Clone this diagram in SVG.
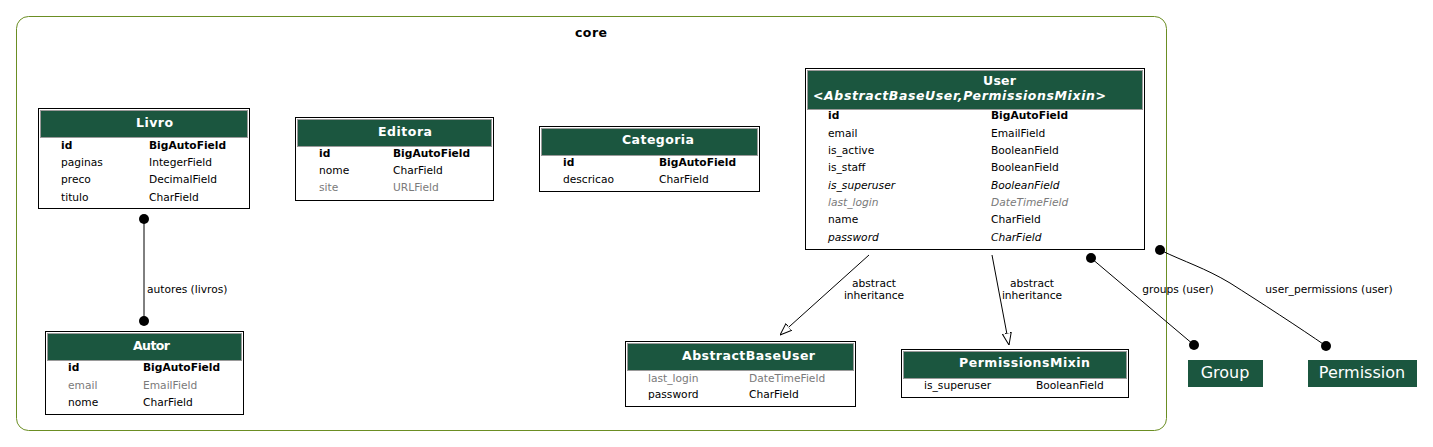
<svg xmlns="http://www.w3.org/2000/svg" width="1433" height="447" viewBox="0 0 1433 447">
<style>
text{font-family:"DejaVu Sans","Liberation Sans",sans-serif;}
.frame{fill:#fff;stroke:#000;stroke-width:1}
.hdr{fill:#1b563f;stroke:#9a9a9a;stroke-width:1}
.title{fill:#fff;font-size:12.5px;font-weight:bold}
.r{font-size:10.67px;fill:#000}
.b{font-weight:bold}
.g{fill:#7a7a7a}
.i{font-style:italic}
.lbl{font-size:10.67px;fill:#000}
.c{text-anchor:middle}
.edge{fill:none;stroke:#000;stroke-width:1}
.dot{fill:#000}
.ext{fill:#1b563f}
.extt{fill:#fff;font-size:16px;text-anchor:middle}
</style>
<defs>
<marker id="tri" viewBox="0 0 12 10" refX="12" refY="5" markerWidth="12" markerHeight="10" markerUnits="userSpaceOnUse" orient="auto">
<path d="M0,0.5 L12,5 L0,9.5 Z" fill="#fff" stroke="#000" stroke-width="1"/>
</marker>
</defs>
<rect width="1433" height="447" fill="#fff"/>
<g id="cluster-core">
<rect x="16.5" y="16.5" width="1150" height="414" rx="12" fill="none" stroke="#6b8e23" stroke-width="1"/>
<text x="575" y="37" style="font-size:12.5px;font-weight:bold" textLength="32" lengthAdjust="spacing">core</text>
</g>
<g id="connectors">
<line class="edge" x1="144" y1="219" x2="144" y2="321"/>
<circle class="dot" cx="144" cy="219" r="5"/>
<circle class="dot" cx="144" cy="321" r="5"/>
<text class="lbl" x="147" y="293">autores (livros)</text>
<line class="edge" x1="869" y1="255" x2="780" y2="335" marker-end="url(#tri)"/>
<text class="lbl c" x="874" y="287">abstract</text>
<text class="lbl c" x="874" y="299">inheritance</text>
<line class="edge" x1="992" y1="255" x2="1009" y2="345" marker-end="url(#tri)"/>
<text class="lbl c" x="1032" y="287">abstract</text>
<text class="lbl c" x="1032" y="299">inheritance</text>
<line class="edge" x1="1091" y1="258" x2="1194" y2="345"/>
<circle class="dot" cx="1091" cy="258" r="5"/>
<circle class="dot" cx="1194" cy="345" r="5"/>
<text class="lbl c" x="1178" y="293">groups (user)</text>
<path class="edge" d="M1160,250 C1185,262 1205,268 1230,283 C1260,302 1300,328 1326,346"/>
<circle class="dot" cx="1160" cy="250" r="5"/>
<circle class="dot" cx="1326" cy="346" r="5"/>
<text class="lbl c" x="1329" y="293">user_permissions (user)</text>
</g>
<g id="Livro">
<rect class="frame" x="38.5" y="108.5" width="211" height="100"/>
<rect class="hdr" x="40.5" y="110.5" width="207" height="27"/>
<text class="title" x="136" y="127" textLength="37" lengthAdjust="spacing">Livro</text>
<text class="r b" x="61" y="149">id</text><text class="r b" x="149" y="149">BigAutoField</text>
<text class="r" x="61" y="166">paginas</text><text class="r" x="149" y="166">IntegerField</text>
<text class="r" x="61" y="183">preco</text><text class="r" x="149" y="183">DecimalField</text>
<text class="r" x="61" y="201">titulo</text><text class="r" x="149" y="201">CharField</text>
</g>
<g id="Editora">
<rect class="frame" x="295.5" y="117.5" width="198" height="83"/>
<rect class="hdr" x="297.5" y="119.5" width="194" height="27"/>
<text class="title" x="378" y="136" textLength="54" lengthAdjust="spacing">Editora</text>
<text class="r b" x="319" y="157">id</text><text class="r b" x="393" y="157">BigAutoField</text>
<text class="r" x="319" y="174">nome</text><text class="r" x="393" y="174">CharField</text>
<text class="r g" x="319" y="191">site</text><text class="r g" x="393" y="191">URLField</text>
</g>
<g id="Categoria">
<rect class="frame" x="539.5" y="126.5" width="220" height="65"/>
<rect class="hdr" x="541.5" y="128.5" width="216" height="27"/>
<text class="title" x="622" y="144" textLength="72" lengthAdjust="spacing">Categoria</text>
<text class="r b" x="563" y="166">id</text><text class="r b" x="659" y="166">BigAutoField</text>
<text class="r" x="563" y="183">descricao</text><text class="r" x="659" y="183">CharField</text>
</g>
<g id="User">
<rect class="frame" x="805.5" y="68.5" width="339" height="181"/>
<rect class="hdr" x="807.5" y="70.5" width="335" height="39"/>
<text class="title" x="983" y="85" textLength="33" lengthAdjust="spacing">User</text>
<text class="title i" x="813" y="100" textLength="293" lengthAdjust="spacing">&lt;AbstractBaseUser,PermissionsMixin&gt;</text>
<text class="r b" x="828" y="119">id</text><text class="r b" x="991" y="119">BigAutoField</text>
<text class="r" x="828" y="137">email</text><text class="r" x="991" y="137">EmailField</text>
<text class="r" x="828" y="154">is_active</text><text class="r" x="991" y="154">BooleanField</text>
<text class="r" x="828" y="171">is_staff</text><text class="r" x="991" y="171">BooleanField</text>
<text class="r i" x="828" y="189">is_superuser</text><text class="r i" x="991" y="189">BooleanField</text>
<text class="r g i" x="828" y="206">last_login</text><text class="r g i" x="991" y="206">DateTimeField</text>
<text class="r" x="828" y="223">name</text><text class="r" x="991" y="223">CharField</text>
<text class="r i" x="828" y="241">password</text><text class="r i" x="991" y="241">CharField</text>
</g>
<g id="Autor">
<rect class="frame" x="45.5" y="331.5" width="198" height="83"/>
<rect class="hdr" x="47.5" y="333.5" width="194" height="27"/>
<text class="title" x="133" y="350" textLength="37" lengthAdjust="spacing">Autor</text>
<text class="r b" x="68" y="371">id</text><text class="r b" x="143" y="371">BigAutoField</text>
<text class="r g" x="68" y="389">email</text><text class="r g" x="143" y="389">EmailField</text>
<text class="r" x="68" y="406">nome</text><text class="r" x="143" y="406">CharField</text>
</g>
<g id="AbstractBaseUser">
<rect class="frame" x="625.5" y="341.5" width="230" height="65"/>
<rect class="hdr" x="627.5" y="343.5" width="226" height="27"/>
<text class="title" x="682" y="360" textLength="133" lengthAdjust="spacing">AbstractBaseUser</text>
<text class="r g" x="648" y="382">last_login</text><text class="r g" x="749" y="382">DateTimeField</text>
<text class="r" x="648" y="398">password</text><text class="r" x="749" y="398">CharField</text>
</g>
<g id="PermissionsMixin">
<rect class="frame" x="901.5" y="349.5" width="227" height="48"/>
<rect class="hdr" x="903.5" y="351.5" width="223" height="27"/>
<text class="title" x="959" y="367" textLength="131" lengthAdjust="spacing">PermissionsMixin</text>
<text class="r" x="924" y="389">is_superuser</text><text class="r" x="1036" y="389">BooleanField</text>
</g>
<g id="Group">
<rect class="ext" x="1188" y="360" width="75" height="27"/>
<text class="extt" x="1225" y="378">Group</text>
</g>
<g id="Permission">
<rect class="ext" x="1308" y="360" width="109" height="27"/>
<text class="extt" x="1362" y="378">Permission</text>
</g>
</svg>
